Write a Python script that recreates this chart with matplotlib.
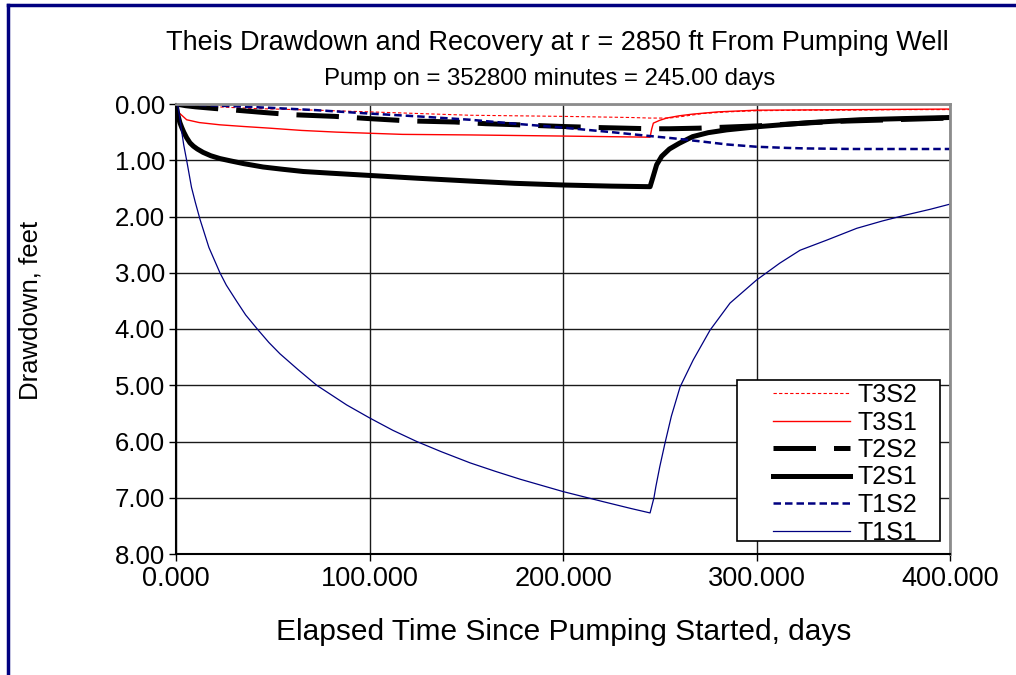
import matplotlib.pyplot as plt
from matplotlib.lines import Line2D
from matplotlib.patches import Rectangle

plt.rcParams['font.family'] = ['Liberation Sans', 'DejaVu Sans']

# elapsed time (days) and drawdown (feet)
t_t1s1 = [0, 1, 2, 3, 4, 5.5, 8, 10, 12.4, 17, 22.7, 26, 31.4, 36, 42, 48, 53.7, 63, 72.7, 88.2, 100, 112, 124.4,
          137, 152, 165, 177.8, 200, 220.8, 235, 245,
          247, 248, 250, 252.7, 256, 260.5, 267.3, 276, 286.3, 300, 312, 322.5, 336.3, 351.8, 365, 377.6, 390, 400]
d_t1s1 = [0, 0.04, 0.26, 0.5, 0.73, 1.0, 1.48, 1.75, 2.05, 2.55, 3.0, 3.22, 3.51, 3.75, 4.0, 4.24, 4.44, 4.72, 5.0,
          5.35, 5.58, 5.8, 6.0, 6.18, 6.38, 6.53, 6.67, 6.89, 7.07, 7.19, 7.27,
          7.0, 6.8, 6.45, 6.03, 5.55, 5.03, 4.55, 4.02, 3.54, 3.13, 2.83, 2.6, 2.42, 2.21, 2.08, 1.97, 1.87, 1.78]

t_t1s2 = [0, 15, 30, 50, 72.7, 100, 125, 152, 175, 200, 225, 245, 257, 272.5, 285, 300, 315, 326, 350, 375, 400]
d_t1s2 = [0, 0.02, 0.04, 0.07, 0.11, 0.17, 0.22, 0.28, 0.35, 0.42, 0.50, 0.57, 0.61, 0.67, 0.72, 0.76, 0.78, 0.79,
          0.80, 0.80, 0.80]

t_t2s1 = [0, 0.5, 1, 2, 3, 4, 5.5, 7.2, 9, 11, 14, 18, 22.7, 28, 35, 45, 55, 65.8, 80, 100, 125, 152, 175, 200, 225, 245,
          246.5, 248.4, 251, 255, 260, 267, 275, 284.6, 301.8, 327.6, 353.5, 375, 400]
d_t2s1 = [0, 0.1, 0.2, 0.33, 0.42, 0.5, 0.6, 0.69, 0.75, 0.8, 0.86, 0.92, 0.97, 1.01, 1.06, 1.12, 1.16, 1.2, 1.23,
          1.27, 1.32, 1.37, 1.41, 1.44, 1.46, 1.47,
          1.3, 1.08, 0.93, 0.8, 0.7, 0.58, 0.51, 0.46, 0.40, 0.33, 0.28, 0.26, 0.24]

t_t2s2 = [0, 5, 10, 20, 31, 45, 60, 82, 100, 120, 144, 160, 177, 200, 220, 245, 255, 270, 285, 300, 320, 340, 360,
          380, 400]
d_t2s2 = [0, 0.03, 0.05, 0.08, 0.11, 0.15, 0.19, 0.22, 0.26, 0.30, 0.32, 0.35, 0.37, 0.40, 0.42, 0.44, 0.44, 0.43,
          0.41, 0.39, 0.35, 0.31, 0.29, 0.27, 0.25]

t_t3s1 = [0, 0.5, 2, 5.5, 12, 22.7, 35, 48.6, 65, 83, 100, 117, 152, 200, 245,
          245.8, 246.7, 250, 253.6, 260, 267, 280, 300, 350, 400]
d_t3s1 = [0, 0.12, 0.17, 0.28, 0.33, 0.37, 0.40, 0.43, 0.47, 0.50, 0.52, 0.54, 0.55, 0.57, 0.59,
          0.45, 0.34, 0.29, 0.25, 0.21, 0.18, 0.14, 0.11, 0.10, 0.09]

t_t3s2 = [0, 10, 21, 40, 72.7, 100, 152, 200, 235, 245, 255, 262, 272, 285, 300, 325, 348, 375, 400]
d_t3s2 = [0, 0.02, 0.05, 0.08, 0.11, 0.14, 0.20, 0.22, 0.24, 0.25, 0.25, 0.22, 0.17, 0.14, 0.12, 0.11, 0.11, 0.10,
          0.10]

x_ticks = [0, 100, 200, 300, 400]
y_ticks = [0, 1, 2, 3, 4, 5, 6, 7, 8]

fig = plt.figure(figsize=(10.16, 6.75), dpi=100)
ax = fig.add_axes([176 / 1016, 1 - 554 / 675, 774 / 1016, 450 / 675])

navy = "#000080"
red = "#ff0000"
ax.plot(t_t3s2, d_t3s2, color=red, lw=0.8, dashes=(3, 2), label="T3S2")
ax.plot(t_t3s1, d_t3s1, color=red, lw=1.0, label="T3S1")
ax.plot(t_t2s2, d_t2s2, color="black", lw=3.6, dashes=(8.5, 3.6), label="T2S2")
ax.plot(t_t2s1, d_t2s1, color="black", lw=3.6, label="T2S1")
ax.plot(t_t1s2, d_t1s2, color=navy, lw=1.8, dashes=(3.0, 1.6), label="T1S2")
ax.plot(t_t1s1, d_t1s1, color=navy, lw=0.9, label="T1S1")

ax.set_xlim(0, 400)
ax.set_ylim(8, 0)
ax.set_xticks(x_ticks)
ax.set_yticks(y_ticks)
ax.set_xticklabels(["{:.3f}".format(v) for v in x_ticks])
ax.set_yticklabels(["{:.2f}".format(v) for v in y_ticks])
ax.tick_params(length=5, width=1, direction="out")
ax.tick_params(axis="x", labelsize=19.5, pad=4)
ax.tick_params(axis="y", labelsize=18.5, pad=3)
ax.grid(True, color="#1a1a1a", lw=1.0)
ax.set_axisbelow(True)

for s in ["top", "right"]:
    ax.spines[s].set_color("#8c8c8c")
    ax.spines[s].set_linewidth(2)
for s in ["left", "bottom"]:
    ax.spines[s].set_color("black")
    ax.spines[s].set_linewidth(1.5)

fig.text(564 / 1016, 1 - 632 / 675, "Elapsed Time Since Pumping Started, days",
         ha="center", va="center", fontsize=21.5)
fig.text(31 / 1016, 1 - 310 / 675, "Drawdown, feet", rotation=90,
         ha="center", va="center", fontsize=18.5)

fig.text(557 / 1016, 1 - 43 / 675, "Theis Drawdown and Recovery at r = 2850 ft From Pumping Well",
         ha="center", va="center", fontsize=19.5)
fig.text(550 / 1016, 1 - 79 / 675, "Pump on = 352800 minutes = 245.00 days",
         ha="center", va="center", fontsize=17.3)

# legend box drawn separately so it keeps the wide empty margin of the original
box = Rectangle((0.7248, 0.0289), 0.2623, 0.3578, transform=ax.transAxes, facecolor="white",
                edgecolor="black", lw=1.2, zorder=4.5)
ax.add_patch(box)
leg = ax.legend(loc="upper left", bbox_to_anchor=(0.7713, 0.380), borderaxespad=0, fontsize=18,
                frameon=False, handlelength=3.08, handletextpad=0.32, labelspacing=0.14, borderpad=0)

# outer chart border (left and top)
fig.add_artist(Line2D([8 / 1016, 8 / 1016], [0, 1 - 5 / 675], color=navy, lw=2.5))
fig.add_artist(Line2D([8 / 1016, 1], [1 - 5 / 675, 1 - 5 / 675], color=navy, lw=2.5))

fig.savefig("out.png", dpi=100)
